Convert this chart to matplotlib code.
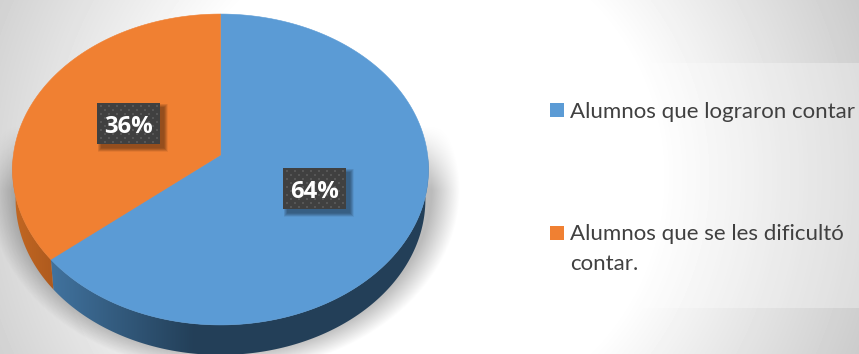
import numpy as np
import matplotlib
matplotlib.use("Agg")
import matplotlib.pyplot as plt
from matplotlib.colors import to_rgb, LinearSegmentedColormap
from matplotlib.patches import Polygon, Rectangle

# Survey shares, in percent
shares = [64, 36]
legend_labels = [["Alumnos que lograron contar"], ["Alumnos que se les dificultó", "contar."]]
slice_colors = ["#5B9BD5", "#F08032"]
side_ramps = [("#41739F", "#233F58"), ("#C26722", "#AE5A1E")]

W, H = 859, 354
fig = plt.figure(figsize=(W / 100, H / 100), dpi=100)
ax = fig.add_axes([0, 0, 1, 1])
ax.set_xlim(0, W)
ax.set_ylim(H, 0)
ax.axis("off")

xx, yy = np.meshgrid(np.arange(W) + 0.5, np.arange(H) + 0.5)

# Radial page background, white in the middle and grey towards the corners
r = np.hypot(xx - 415, yy - 177)
bg = 1 - 0.20 * np.clip((r - 245) / 230, 0, 1)
ax.imshow(bg, cmap="gray", vmin=0, vmax=1, extent=[0, W, H, 0], zorder=0, aspect="auto")

# Soft drop shadow below the pie, fading out towards its upper part
norm = np.hypot((xx - 224) / 222, (yy - 190) / 172)
edge = (norm - 1) * 172
shadow = 0.27 * np.clip((11 - edge) / 22, 0, 1) * np.clip((yy - 125) / 65, 0, 1)
rgba = np.zeros((H, W, 4))
rgba[..., 3] = shadow
ax.imshow(rgba, extent=[0, W, H, 0], zorder=1, aspect="auto")

# Perspective projection of the unit disc onto the page
CX, CY = 220.5, 155.0
PERSP = 0.0932
A, B = 207.1, 154.1


def project(theta_deg, scale=1.0, drop=0.0):
    t = np.radians(theta_deg)
    u, v = np.sin(t), np.cos(t)
    d = 1 + PERSP * v
    return np.column_stack([CX + scale * A * u / d, CY - B * v / d + drop])


DEPTH = 30.0
RIM_SCALE = 0.985

edges = np.concatenate([[0], np.cumsum(shares)]) * 360.0 / sum(shares)

# Visible side wall of each slice, shaded from left to right
side_limits = [(90.0, edges[1]), (edges[1], 270.0)]
side_x_ranges = [(50, 195), (14, 54)]
for (a0, a1), (c0, c1), (x0, x1) in zip(side_limits, side_ramps, side_x_ranges):
    th = np.linspace(a0, a1, 160)
    outline = np.vstack([project(th), project(th[::-1], RIM_SCALE, DEPTH)])
    cmap = LinearSegmentedColormap.from_list("side", [to_rgb(c0), to_rgb(c1)])
    grad = np.clip((xx[0] - x0) / (x1 - x0), 0, 1)[None, :]
    im = ax.imshow(grad, cmap=cmap, vmin=0, vmax=1, extent=[0, W, H, 0], zorder=2, aspect="auto")
    im.set_clip_path(Polygon(outline, closed=True, transform=ax.transData))

# Top face of the pie
for a0, a1, col in zip(edges[:-1], edges[1:], slice_colors):
    th = np.linspace(a0, a1, 240)
    pts = np.vstack([[CX, CY], project(th)])
    ax.add_patch(Polygon(pts, closed=True, facecolor=col, edgecolor=col, linewidth=0.4, zorder=3))

# Dark dotted value labels with an offset soft shadow
label_boxes = [(283, 168), (97, 103)]
BOX_W, BOX_H = 63, 41
for value, (bx, by) in zip(shares, label_boxes):
    for grow in np.linspace(7, 0, 8):
        ax.add_patch(Rectangle((bx + 4 - grow / 2, by + 4 - grow / 2), BOX_W + grow, BOX_H + grow,
                               facecolor="black", edgecolor="none", alpha=0.055, zorder=4))
    ax.add_patch(Rectangle((bx, by), BOX_W, BOX_H, facecolor="#404040", edgecolor="none", zorder=5))
    dots_x, dots_y = [], []
    for row, dy in enumerate(np.arange(3, BOX_H - 1, 4.0)):
        for dx in np.arange(4 + 4 * (row % 2), BOX_W - 1, 8.0):
            dots_x.append(bx + dx)
            dots_y.append(by + dy)
    ax.scatter(dots_x, dots_y, s=2.6, marker="s", color="#565656", linewidths=0, zorder=6)
    ax.text(bx + BOX_W / 2, by + 30, f"{value}%", color="white", fontsize=17.2,
            fontweight="bold", family="Open Sans", ha="center", va="baseline", zorder=7)

# Legend panel, a translucent white sheet over the page
ax.add_patch(Rectangle((533, 63), W - 533, 245, facecolor="white", edgecolor="none", alpha=0.3, zorder=1.5))

legend_rows = [(550, 103), (550, 226)]
LINE_STEP = 29.5
for lines, col, (sx, sy) in zip(legend_labels, slice_colors, legend_rows):
    ax.add_patch(Rectangle((sx, sy), 14, 14, facecolor=col, edgecolor="none", zorder=3))
    for i, line in enumerate(lines):
        ax.text(sx + 20, sy + 14.5 + i * LINE_STEP, line, color="#404040", fontsize=16.0,
                family="Lato", ha="left", va="baseline", zorder=3)

fig.savefig("out.png", dpi=100)
